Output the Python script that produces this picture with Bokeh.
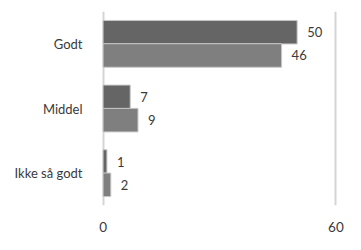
from bokeh.plotting import figure
from bokeh.models import ColumnDataSource, FactorRange, Range1d, FixedTicker, LabelSet
from bokeh.transform import dodge
from bokeh.core.properties import value
from bokeh.embed import file_html
from bokeh.resources import INLINE

categories = ["Ikke så godt", "Middel", "Godt"]
series_a = [1, 7, 50]
series_b = [2, 9, 46]
x_ticks = [0, 60]

src = ColumnDataSource(dict(
    cat=categories, a=series_a, b=series_b,
    la=[str(v) for v in series_a], lb=[str(v) for v in series_b],
))

p = figure(width=345, height=234, output_backend="svg", toolbar_location=None,
           y_range=FactorRange(factors=categories, range_padding=0),
           x_range=Range1d(-0.4, 60.4),
           min_border_left=101, min_border_right=8, min_border_top=11, min_border_bottom=27)
p.outline_line_color = None
p.background_fill_color = "white"
p.border_fill_color = "white"

p.hbar(y=dodge("cat", 0.18, range=p.y_range), right="a", left=0, height=0.364,
       source=src, fill_color="#656565", line_color="#c8c8c8", line_width=1)
p.hbar(y=dodge("cat", -0.18, range=p.y_range), right="b", left=0, height=0.364,
       source=src, fill_color="#7f7f7f", line_color="#c8c8c8", line_width=1)

font = "Lato"
p.add_layout(LabelSet(x="a", y=dodge("cat", 0.18, range=p.y_range), text="la", source=src,
                      x_offset=10, text_baseline="middle", text_font=value(font),
                      text_font_size="13px", text_color="#3a3a3a"))
p.add_layout(LabelSet(x="b", y=dodge("cat", -0.18, range=p.y_range), text="lb", source=src,
                      x_offset=10, text_baseline="middle", text_font=value(font),
                      text_font_size="13px", text_color="#3a3a3a"))

p.xgrid.ticker = FixedTicker(ticks=x_ticks)
p.xgrid.grid_line_color = "#d4d4d4"
p.xgrid.grid_line_width = 2
p.ygrid.grid_line_color = None

p.xaxis.ticker = FixedTicker(ticks=x_ticks)
p.xaxis.axis_line_color = None
p.xaxis.major_tick_line_color = None
p.xaxis.minor_tick_line_color = None
p.xaxis.major_label_text_font = font
p.xaxis.major_label_text_font_size = "13.5px"
p.xaxis.major_label_text_color = "#3a3a3a"
p.xaxis.major_label_standoff = 10

p.yaxis.axis_line_color = None
p.yaxis.major_tick_line_color = None
p.yaxis.major_label_text_font = font
p.yaxis.major_label_text_font_size = "13px"
p.yaxis.major_label_text_color = "#3a3a3a"
p.yaxis.major_label_standoff = 13

open("out.html", "w").write(file_html(p, INLINE))
